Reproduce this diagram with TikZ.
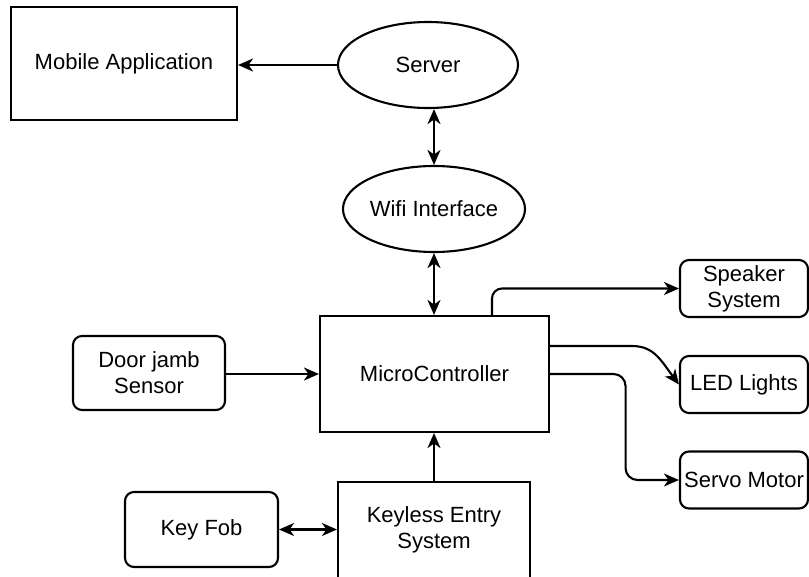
\documentclass[tikz,border=0pt]{standalone}
\usepackage{fontspec}
\setmainfont{Liberation Sans}
\usetikzlibrary{shapes.geometric,arrows.meta}
\begin{document}
\begin{tikzpicture}[x=1pt,y=-1pt,
  >={Stealth[length=15pt,width=13pt,inset=4.5pt]},
  every node/.style={font=\fontsize{22}{26}\selectfont, align=center,
    line width=2.1pt, inner sep=0pt},
  sqbox/.style={draw, rectangle},
  rbox/.style={draw, rectangle, rounded corners=9pt},
  oval/.style={draw, ellipse},
  link/.style={line width=2.1pt}]
\clip (0,0) rectangle (809,576);

% blocks
\node[sqbox, minimum width=226pt, minimum height=113pt] (mobile) at (124,63.5) {\raisebox{-3pt}{Mobile Application}};
\node[oval, minimum width=180pt, minimum height=86pt] (server) at (428,65) {\raisebox{-2pt}{Server}};
\node[oval, minimum width=182pt, minimum height=86pt] (wifi) at (434,209) {\raisebox{-2pt}{Wifi Interface}};
\node[sqbox, minimum width=229pt, minimum height=116pt] (mc) at (434.5,374) {\raisebox{-2pt}{MicroController}};
\node[rbox, minimum width=152pt, minimum height=74pt] (door) at (149,373) {Door jamb\\Sensor};
\node[rbox, minimum width=153pt, minimum height=75pt] (fob) at (201.5,529.5) {\raisebox{-1pt}{Key Fob}};
\node[sqbox, minimum width=192pt, minimum height=96pt] (keyless) at (434,530) {Keyless Entry\\System};
\node[rbox, minimum width=128pt, minimum height=57pt] (speaker) at (744,288.5) {Speaker\\System};
\node[rbox, minimum width=128pt, minimum height=57pt] (led) at (744,384.5) {\raisebox{-2pt}{LED Lights}};
\node[rbox, minimum width=128pt, minimum height=57pt] (servo) at (744,480) {\raisebox{-1pt}{Servo Motor}};

% connectors
\draw[link,->] (server.west) -- (server.west -| mobile.east);
\draw[link,<->] (wifi.north) -- (wifi.north |- server.south);
\draw[link,<->] (wifi.south) -- (wifi.south |- mc.north);
\draw[link,->] (mc.west -| door.east) -- (mc.west);
\draw[link,->] (keyless.north) -- (keyless.north |- mc.south);
\draw[link,<->] (fob.east) -- (fob.east -| keyless.west);
\draw[link,->,rounded corners=10pt] (mc.north) ++(57.5,0) |- (speaker.west);
\draw[link,->] (mc.east) ++(0,-28) -- ++(82,0)
  .. controls +(22,0) and +(-18,-24) .. (led.west);
\draw[link,->,rounded corners=12pt] (mc.east) -- ++(75.5,0) |- (servo.west);
\end{tikzpicture}
\end{document}
